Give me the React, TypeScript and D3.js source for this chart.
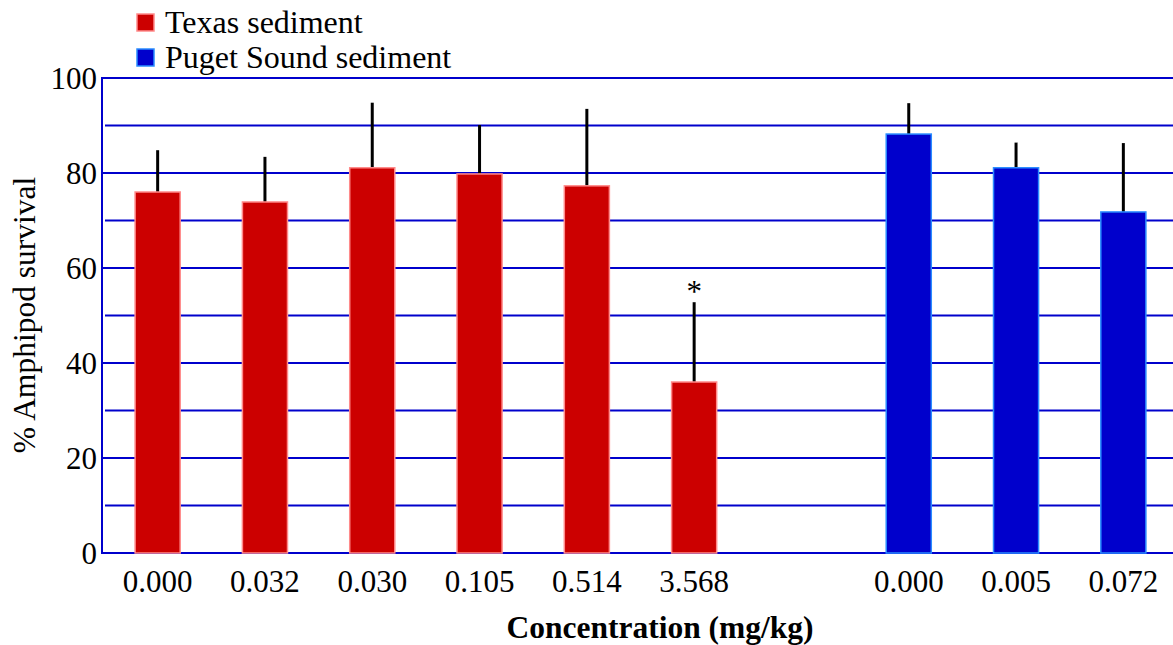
import React, { useEffect, useRef } from 'react';
import * as d3 from 'd3';

const texasLabels = ['0.000', '0.032', '0.030', '0.105', '0.514', '3.568'];
const texasValues = [76.0, 73.9, 81.1, 79.8, 77.3, 36.0];
const texasErrors = [8.8, 9.5, 13.7, 10.3, 16.2, 16.8];
const texasStars = [false, false, false, false, false, true];

const pugetLabels = ['0.000', '0.005', '0.072'];
const pugetValues = [88.2, 81.1, 71.8];
const pugetErrors = [6.5, 5.3, 14.5];

const majorTicks = [0, 20, 40, 60, 80, 100];
const minorTicks = [10, 30, 50, 70, 90];

const width = 1173;
const height = 645;
const serif = "'Liberation Serif', 'Times New Roman', Times, serif";

export default function App() {
  const ref = useRef<SVGSVGElement>(null);

  useEffect(() => {
    const svg = d3.select(ref.current);
    svg.selectAll('*').remove();

    const left = 102;
    const top = 78;
    const bottom = 553;

    // one slot per bar, with an empty slot between the two sediments
    const rows = [
      ...texasLabels.map((l, i) => ({ key: 't' + i, label: l, v: texasValues[i], e: texasErrors[i], star: texasStars[i], site: 'texas' })),
      { key: 'gap', label: '', v: null as number | null, e: 0, star: false, site: 'none' },
      ...pugetLabels.map((l, i) => ({ key: 'p' + i, label: l, v: pugetValues[i], e: pugetErrors[i], star: false, site: 'puget' })),
    ];

    const x = d3.scaleBand()
      .domain(rows.map(d => d.key))
      .range([104, 1177])
      .paddingInner(0.58)
      .paddingOuter(0.29);

    const y = d3.scaleLinear().domain([0, 100]).range([bottom, top]);

    // gridlines
    const grid = svg.append('g');
    grid.selectAll('line.minor')
      .data(minorTicks)
      .enter().append('line')
      .attr('x1', left + 3)
      .attr('x2', width)
      .attr('y1', d => y(d))
      .attr('y2', d => y(d))
      .attr('stroke', '#0000cc')
      .attr('stroke-width', 2);

    grid.selectAll('line.major')
      .data(majorTicks)
      .enter().append('line')
      .attr('x1', left)
      .attr('x2', width)
      .attr('y1', d => y(d))
      .attr('y2', d => y(d))
      .attr('stroke', '#0000cc')
      .attr('stroke-width', 2);

    grid.append('line')
      .attr('x1', left).attr('x2', left)
      .attr('y1', y(100) - 1).attr('y2', y(0) + 1)
      .attr('stroke', '#0000cc')
      .attr('stroke-width', 2);

    // y tick labels
    svg.append('g').selectAll('text')
      .data(majorTicks)
      .enter().append('text')
      .attr('x', left - 5)
      .attr('y', d => y(d))
      .attr('dy', '0.34em')
      .attr('text-anchor', 'end')
      .style('font-family', serif)
      .attr('font-size', 31)
      .text(d => d);

    const bars = rows.filter(d => d.v !== null);

    // error bars (upper only)
    svg.append('g').selectAll('line')
      .data(bars)
      .enter().append('line')
      .attr('x1', d => x(d.key)! + x.bandwidth() / 2)
      .attr('x2', d => x(d.key)! + x.bandwidth() / 2)
      .attr('y1', d => y(d.v!))
      .attr('y2', d => y(d.v! + d.e))
      .attr('stroke', '#000')
      .attr('stroke-width', 3);

    svg.append('g').selectAll('rect')
      .data(bars)
      .enter().append('rect')
      .attr('x', d => x(d.key)!)
      .attr('width', x.bandwidth())
      .attr('y', d => y(d.v!))
      .attr('height', d => y(0) - y(d.v!))
      .attr('fill', d => d.site === 'texas' ? '#cc0000' : '#0000cc')
      .attr('stroke', d => d.site === 'texas' ? '#ff8a8a' : '#2a8cff')
      .attr('stroke-width', 1.5);

    // significance marks
    svg.append('g').selectAll('text')
      .data(bars.filter(d => d.star))
      .enter().append('text')
      .attr('x', d => x(d.key)! + x.bandwidth() / 2)
      .attr('y', d => y(d.v! + d.e))
      .attr('text-anchor', 'middle')
      .style('font-family', serif)
      .attr('font-size', 31)
      .text('*');

    // x tick labels
    svg.append('g').selectAll('text')
      .data(bars)
      .enter().append('text')
      .attr('x', d => x(d.key)! + x.bandwidth() / 2)
      .attr('y', 592)
      .attr('text-anchor', 'middle')
      .style('font-family', serif)
      .attr('font-size', 31)
      .text(d => d.label);

    // axis titles
    svg.append('text')
      .attr('x', 660)
      .attr('y', 638)
      .attr('text-anchor', 'middle')
      .style('font-family', serif)
      .attr('font-weight', 'bold')
      .attr('font-size', 31.5)
      .text('Concentration (mg/kg)');

    svg.append('text')
      .attr('transform', 'translate(35, 315) rotate(-90)')
      .attr('text-anchor', 'middle')
      .style('font-family', serif)
      .attr('font-size', 31.5)
      .text('% Amphipod survival');

    // legend
    const legend = [
      { name: 'Texas sediment', fill: '#cc0000', stroke: '#ff8a8a' },
      { name: 'Puget Sound sediment', fill: '#0000cc', stroke: '#2a8cff' },
    ];
    const lg = svg.append('g').selectAll('g')
      .data(legend)
      .enter().append('g')
      .attr('transform', (d, i) => 'translate(137, ' + (14 + i * 35) + ')');
    lg.append('rect')
      .attr('width', 17)
      .attr('height', 17)
      .attr('fill', d => d.fill)
      .attr('stroke', d => d.stroke)
      .attr('stroke-width', 1.5);
    lg.append('text')
      .attr('x', 28)
      .attr('y', 19)
      .style('font-family', serif)
      .attr('font-size', 32)
      .text(d => d.name);
  }, []);

  return (
    <svg ref={ref} width={width} height={height}
      style={{ position: 'absolute', left: 0, top: 0, background: '#fff' }} />
  );
}
